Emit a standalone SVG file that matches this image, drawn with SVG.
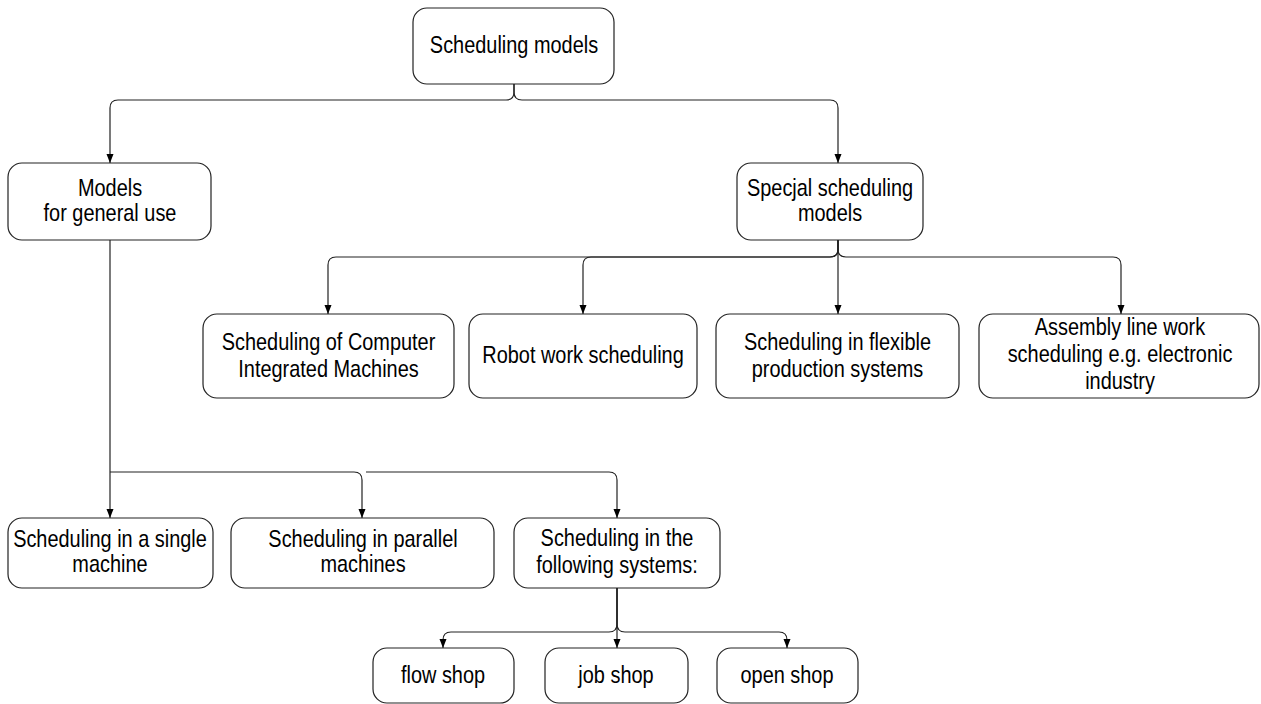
<svg xmlns="http://www.w3.org/2000/svg" width="1261" height="704" viewBox="0 0 1261 704">
<defs>
<style>
.box{fill:#fff;stroke:#222;stroke-width:1.2}
.t{font-family:"Liberation Sans",Arial,sans-serif;font-size:24px;fill:#000;text-anchor:middle}
.c{fill:none;stroke:#222;stroke-width:1.2}
</style>
<marker id="ah" markerUnits="userSpaceOnUse" markerWidth="10" markerHeight="8" refX="9" refY="3.5" orient="auto">
<path d="M0 0 L9 3.5 L0 7 z" fill="#000"/>
</marker>
</defs>
<rect width="1261" height="704" fill="#fff"/>
<g id="connectors">
<path class="c" marker-end="url(#ah)" d="M514 84 V92 Q514 100 506 100 H118 Q110 100 110 108 V163"/>
<path class="c" marker-end="url(#ah)" d="M514 84 V92 Q514 100 522 100 H830 Q838 100 838 108 V163"/>
<path class="c" marker-end="url(#ah)" d="M838 240 V249 Q838 257 830 257 H336 Q328 257 328 265 V314"/>
<path class="c" marker-end="url(#ah)" d="M838 240 V249 Q838 257 830 257 H591 Q583 257 583 265 V314"/>
<path class="c" marker-end="url(#ah)" d="M838 240 V314"/>
<path class="c" marker-end="url(#ah)" d="M838 240 V249 Q838 257 846 257 H1113 Q1121 257 1121 265 V314"/>
<path class="c" marker-end="url(#ah)" d="M110 240 V518"/>
<path class="c" marker-end="url(#ah)" d="M110 472 H354 Q362 472 362 480 V518"/>
<path class="c" marker-end="url(#ah)" d="M366 472 H609 Q617 472 617 480 V518"/>
<path class="c" marker-end="url(#ah)" d="M617 588 V624 Q617 632 609 632 H451 Q443 632 443 640 V648"/>
<path class="c" marker-end="url(#ah)" d="M617 588 V648"/>
<path class="c" marker-end="url(#ah)" d="M617 588 V624 Q617 632 625 632 H779 Q787 632 787 640 V648"/>
</g>
<g id="n-root"><rect class="box" x="413" y="8" width="201" height="76" rx="14"/>
<text class="t" transform="translate(514 53) scale(0.83 1)">Scheduling models</text></g>
<g id="n-general"><rect class="box" x="8" y="163" width="203" height="77" rx="14"/>
<text class="t" transform="translate(110 0) scale(0.83 1)"><tspan x="0" y="196">Models</tspan><tspan x="0" y="221">for general use</tspan></text></g>
<g id="n-special"><rect class="box" x="737" y="163" width="186" height="77" rx="14"/>
<text class="t" transform="translate(830 0) scale(0.83 1)"><tspan x="0" y="196">Specjal scheduling</tspan><tspan x="0" y="221">models</tspan></text></g>
<g id="n-cim"><rect class="box" x="203" y="314" width="251" height="84" rx="14"/>
<text class="t" transform="translate(328.5 0) scale(0.83 1)"><tspan x="0" y="350">Scheduling of Computer</tspan><tspan x="0" y="377">Integrated Machines</tspan></text></g>
<g id="n-robot"><rect class="box" x="469" y="314" width="228" height="84" rx="14"/>
<text class="t" transform="translate(583 363) scale(0.83 1)">Robot work scheduling</text></g>
<g id="n-flex"><rect class="box" x="716" y="314" width="243" height="84" rx="14"/>
<text class="t" transform="translate(837.5 0) scale(0.83 1)"><tspan x="0" y="350">Scheduling in flexible</tspan><tspan x="0" y="377">production systems</tspan></text></g>
<g id="n-assembly"><rect class="box" x="979" y="314" width="280" height="84" rx="14"/>
<text class="t" transform="translate(1120 0) scale(0.83 1)"><tspan x="0" y="335">Assembly line work</tspan><tspan x="0" y="362">scheduling e.g. electronic</tspan><tspan x="0" y="389">industry</tspan></text></g>
<g id="n-single"><rect class="box" x="8" y="518" width="205" height="70" rx="14"/>
<text class="t" transform="translate(110 0) scale(0.83 1)"><tspan x="0" y="547">Scheduling in a single</tspan><tspan x="0" y="572">machine</tspan></text></g>
<g id="n-parallel"><rect class="box" x="231" y="518" width="263" height="70" rx="14"/>
<text class="t" transform="translate(363 0) scale(0.83 1)"><tspan x="0" y="547">Scheduling in parallel</tspan><tspan x="0" y="572">machines</tspan></text></g>
<g id="n-following"><rect class="box" x="514" y="518" width="206" height="70" rx="14"/>
<text class="t" transform="translate(617 0) scale(0.83 1)"><tspan x="0" y="546">Scheduling in the</tspan><tspan x="0" y="573">following systems:</tspan></text></g>
<g id="n-flow"><rect class="box" x="373" y="648" width="141" height="55" rx="14"/>
<text class="t" transform="translate(443 683) scale(0.83 1)">flow shop</text></g>
<g id="n-job"><rect class="box" x="545" y="648" width="143" height="55" rx="14"/>
<text class="t" transform="translate(616 683) scale(0.83 1)">job shop</text></g>
<g id="n-open"><rect class="box" x="717" y="648" width="141" height="55" rx="14"/>
<text class="t" transform="translate(787 683) scale(0.83 1)">open shop</text></g>
</svg>
